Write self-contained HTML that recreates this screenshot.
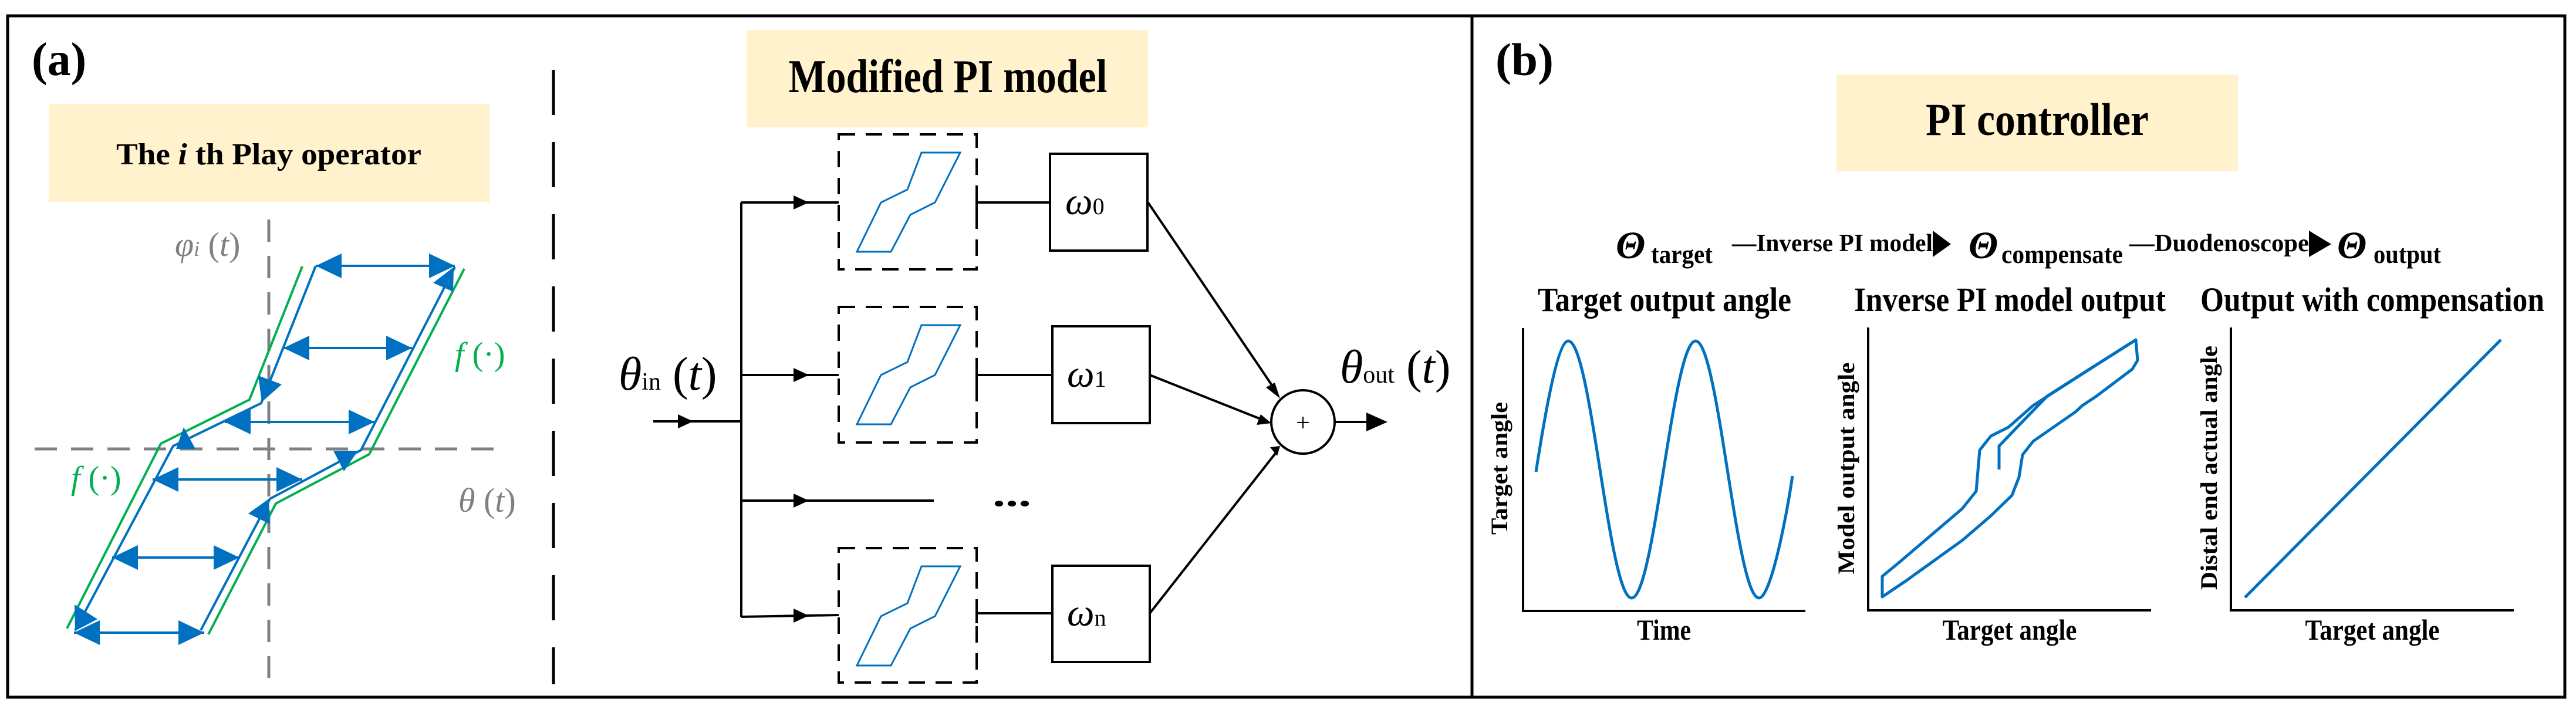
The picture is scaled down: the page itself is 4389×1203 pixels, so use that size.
<!DOCTYPE html>
<html><head><meta charset="utf-8"><style>
html,body{margin:0;padding:0;background:#fff;}
svg{display:block;}
text{font-family:"Liberation Serif",serif;}
</style></head><body>
<svg width="4389" height="1203" viewBox="0 0 4389 1203" xmlns="http://www.w3.org/2000/svg" font-family="Liberation Serif, serif">
<rect x="0" y="0" width="4389" height="1203" fill="#fff"/>
<rect x="13" y="27" width="4357" height="1161" fill="none" stroke="#000" stroke-width="5"/>
<line x1="2508" y1="27" x2="2508" y2="1188" stroke="#000" stroke-width="5"/>
<line x1="943" y1="119" x2="943" y2="1166" stroke="#000" stroke-width="5" stroke-dasharray="77 46"/>

<text x="54" y="128" font-size="80" font-weight="bold">(a)</text>
<rect x="83" y="177" width="751" height="167" fill="#fff2cc"/>
<text x="458" y="280" font-size="52" font-weight="bold" text-anchor="middle" textLength="520" lengthAdjust="spacingAndGlyphs">The <tspan font-style="italic">i</tspan> th Play operator</text>

<line x1="458" y1="374" x2="458" y2="1155" stroke="#808080" stroke-width="5" stroke-dasharray="38 24"/>
<line x1="59" y1="765" x2="846" y2="765" stroke="#808080" stroke-width="5" stroke-dasharray="38 24"/>
<text x="298" y="436" font-size="58" fill="#808080" font-style="italic">φ<tspan font-size="36">i</tspan><tspan font-style="normal"> (</tspan>t<tspan font-style="normal">)</tspan></text>
<text x="781" y="872" font-size="58" fill="#808080" font-style="italic">θ<tspan font-style="normal"> (</tspan>t<tspan font-style="normal">)</tspan></text>
<text x="775" y="622" font-size="56" fill="#00b050" font-style="italic">f<tspan font-style="normal"> (·)</tspan></text>
<text x="121" y="833" font-size="56" fill="#00b050" font-style="italic">f<tspan font-style="normal"> (·)</tspan></text>

<g fill="none" stroke="#00b050" stroke-width="4">
<polyline points="515,454 425,681 274,756 114,1071"/>
<polyline points="791,458 629,774 470,858 355,1081"/>
</g>
<g fill="none" stroke="#0070c0" stroke-width="4">
<polyline points="538,453 445,687 295,760 128,1074"/>
<polyline points="775,455 615,767 460,850 342,1074"/>
<line x1="538" y1="453" x2="775" y2="453"/>
<line x1="483" y1="593" x2="702" y2="593"/>
<line x1="383" y1="719" x2="638" y2="719"/>
<line x1="260" y1="817" x2="515" y2="817"/>
<line x1="191" y1="950" x2="408" y2="950"/>
<line x1="126" y1="1078" x2="348" y2="1078"/>
</g>
<g fill="#0070c0">
<polygon points="538,453 582,432 582,474"/><polygon points="775,453 731,432 731,474"/>
<polygon points="483,593 527,572 527,614"/><polygon points="702,593 658,572 658,614"/>
<polygon points="383,719 427,698 427,740"/><polygon points="638,719 594,698 594,740"/>
<polygon points="260,817 304,796 304,838"/><polygon points="515,817 471,796 471,838"/>
<polygon points="191,950 235,929 235,971"/><polygon points="408,950 364,929 364,971"/>
<polygon points="126,1078 170,1057 170,1099"/><polygon points="348,1078 304,1057 304,1099"/>
<polygon points="440,640 480,655 446,685"/>
<polygon points="313,728 300,765 333,765"/>
<polygon points="568,768 610,768 586,803"/>
<polygon points="423,875 458,850 460,893"/>
<polygon points="127,1030 166,1055 128,1075"/>
<polygon points="773,455 738,482 772,497"/>
</g>

<rect x="1272" y="51" width="684" height="166" fill="#fff2cc"/>
<text x="1615" y="157" font-size="80" font-weight="bold" text-anchor="middle" textLength="543" lengthAdjust="spacingAndGlyphs">Modified PI model</text>

<g fill="none" stroke="#000" stroke-width="4" stroke-dasharray="28 18">
<rect x="1429" y="229" width="235" height="230"/>
<rect x="1429" y="523" width="235" height="231"/>
<rect x="1429" y="934" width="235" height="229"/>
</g>
<g fill="none" stroke="#0070c0" stroke-width="3">
<polygon transform="translate(1429,229)" points="31,200 72,116 117,94 141,31 207,31 164,116 122,137 89,200"/>
<polygon transform="translate(1429,523)" points="31,200 72,116 117,94 141,31 207,31 164,116 122,137 89,200"/>
<polygon transform="translate(1429,934)" points="31,200 72,116 117,94 141,31 207,31 164,116 122,137 89,200"/>
</g>
<g fill="#fff" stroke="#000" stroke-width="4">
<rect x="1789" y="262" width="166" height="165"/>
<rect x="1793" y="556" width="166" height="165"/>
<rect x="1793" y="964" width="166" height="164"/>
</g>
<g stroke="#000" stroke-width="4" fill="none">
<line x1="1664" y1="345" x2="1789" y2="345"/>
<line x1="1664" y1="639" x2="1793" y2="639"/>
<line x1="1664" y1="1045" x2="1793" y2="1045"/>
<line x1="1664" y1="328" x2="1664" y2="362"/>
<line x1="1664" y1="622" x2="1664" y2="656"/>
<line x1="1664" y1="1028" x2="1664" y2="1062"/>
<line x1="1263" y1="345" x2="1263" y2="1051"/>
<line x1="1263" y1="345" x2="1429" y2="345"/>
<line x1="1263" y1="639" x2="1429" y2="639"/>
<line x1="1263" y1="853" x2="1591" y2="853"/>
<line x1="1263" y1="1051" x2="1429" y2="1048"/>
<line x1="1113" y1="718" x2="1263" y2="718"/>
<line x1="1956" y1="345" x2="2175" y2="668"/>
<line x1="1959" y1="639" x2="2158" y2="718"/>
<line x1="1959" y1="1045" x2="2175" y2="770"/>
<line x1="2275" y1="719" x2="2330" y2="719"/>
<circle cx="2220" cy="719" r="54" fill="#fff"/>
</g>
<g fill="#000">
<polygon points="1352,333 1378,345 1352,357"/>
<polygon points="1352,627 1378,639 1352,651"/>
<polygon points="1352,841 1378,853 1352,865"/>
<polygon points="1352,1037 1378,1049 1352,1061"/>
<polygon points="1155,706 1181,718 1155,730"/>
<polygon points="2181,679 2157,660 2172,652"/>
<polygon points="2166,721 2148,706 2141,724"/>
<polygon points="2181,760 2164,762 2176,777"/>
<polygon points="2328,703 2364,719 2328,735"/>
</g>
<text x="2220" y="734" font-size="42" text-anchor="middle">+</text>
<text x="1691" y="862" font-size="60" font-weight="bold" textLength="66" lengthAdjust="spacingAndGlyphs">...</text>
<text x="1054" y="664" font-size="80"><tspan font-style="italic">θ</tspan><tspan font-size="42">in</tspan> (<tspan font-style="italic">t</tspan>)</text>
<text x="2283" y="652" font-size="80"><tspan font-style="italic">θ</tspan><tspan font-size="42">out</tspan> (<tspan font-style="italic">t</tspan>)</text>
<text x="1815" y="365" font-size="66"><tspan font-style="italic">ω</tspan><tspan font-size="40">0</tspan></text>
<text x="1818" y="659" font-size="66"><tspan font-style="italic">ω</tspan><tspan font-size="40">1</tspan></text>
<text x="1818" y="1066" font-size="66"><tspan font-style="italic">ω</tspan><tspan font-size="40">n</tspan></text>

<text x="2548" y="128" font-size="78" font-weight="bold" textLength="99" lengthAdjust="spacingAndGlyphs">(b)</text>
<rect x="3129" y="127" width="684" height="165" fill="#fff2cc"/>
<text x="3471" y="230" font-size="78" font-weight="bold" text-anchor="middle" textLength="380" lengthAdjust="spacingAndGlyphs">PI controller</text>

<g font-weight="bold">
<text x="2753" y="440" font-size="66" font-style="italic">Θ</text>
<text x="2813" y="448" font-size="44" textLength="105" lengthAdjust="spacingAndGlyphs">target</text>
<text x="2951" y="428" font-size="42" textLength="342" lengthAdjust="spacingAndGlyphs">—Inverse PI model</text>
<polygon points="3293,393 3324,416 3293,438" fill="#000"/>
<text x="3354" y="440" font-size="66" font-style="italic">Θ</text>
<text x="3410" y="448" font-size="44" textLength="207" lengthAdjust="spacingAndGlyphs">compensate</text>
<text x="3628" y="428" font-size="42" textLength="306" lengthAdjust="spacingAndGlyphs">—Duodenoscope</text>
<polygon points="3934,393 3972,416 3934,438" fill="#000"/>
<text x="3982" y="440" font-size="66" font-style="italic">Θ</text>
<text x="4044" y="448" font-size="44" textLength="115" lengthAdjust="spacingAndGlyphs">output</text>

<text x="2620" y="530" font-size="58" textLength="432" lengthAdjust="spacingAndGlyphs">Target output angle</text>
<text x="3159" y="530" font-size="58" textLength="531" lengthAdjust="spacingAndGlyphs">Inverse PI model output</text>
<text x="3749" y="530" font-size="58" textLength="586" lengthAdjust="spacingAndGlyphs">Output with compensation</text>

<text x="2835" y="1090" font-size="50" text-anchor="middle" textLength="92" lengthAdjust="spacingAndGlyphs">Time</text>
<text x="3424" y="1090" font-size="50" text-anchor="middle" textLength="229" lengthAdjust="spacingAndGlyphs">Target angle</text>
<text x="4042" y="1090" font-size="50" text-anchor="middle" textLength="229" lengthAdjust="spacingAndGlyphs">Target angle</text>

<text transform="translate(2568,798) rotate(-90)" font-size="40" text-anchor="middle" textLength="226" lengthAdjust="spacingAndGlyphs">Target angle</text>
<text transform="translate(3159,798) rotate(-90)" font-size="40" text-anchor="middle" textLength="361" lengthAdjust="spacingAndGlyphs">Model output angle</text>
<text transform="translate(3777,797) rotate(-90)" font-size="40" text-anchor="middle" textLength="416" lengthAdjust="spacingAndGlyphs">Distal end actual angle</text>
</g>

<g stroke="#000" stroke-width="4" fill="none">
<polyline points="2595,559 2595,1041 3076,1041"/>
<polyline points="3183,558 3183,1040 3665,1040"/>
<polyline points="3801,558 3801,1040 4283,1040"/>
</g>
<g stroke="#0070c0" stroke-width="5" fill="none" stroke-linejoin="round">
<path d="M2617,804 C2627,740 2652,581 2672,581 C2711,581 2741,1019 2780,1019 C2819,1019 2850,581 2889,581 C2928,581 2958,1019 2997,1019 C3017,1019 3044,880 3054,811"/>
<polygon points="3207,1017 3207,982 3235,959 3343,867 3367,837 3373,767 3392,743 3422,728 3464,691 3548,637 3639,579 3642,614 3633,629 3572,675 3548,691 3536,702 3464,752 3446,775 3440,813 3428,844 3392,879 3343,921 3247,990"/>
<polyline points="3406,800 3406,760 3428,737 3488,675 3560,629 3633,583"/>
<line x1="3825" y1="1018" x2="4261" y2="579"/>
</g>
</svg>
</body></html>
